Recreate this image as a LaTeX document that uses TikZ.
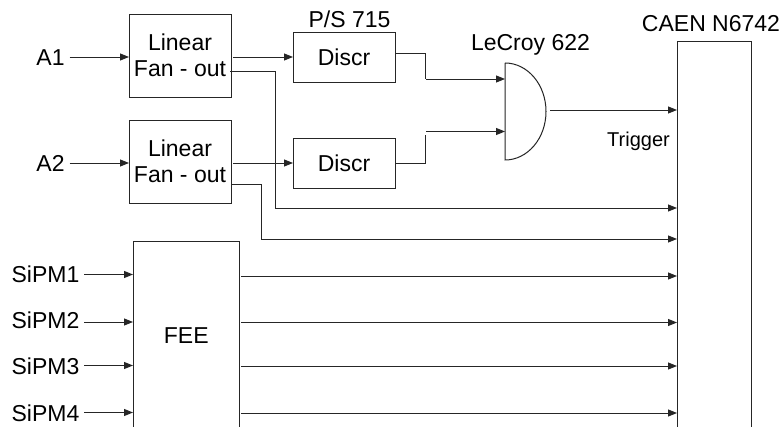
\documentclass[tikz,border=0pt]{standalone}
\usepackage{fontspec}
\setmainfont{Liberation Sans}
\usetikzlibrary{arrows.meta}
\tikzset{
  box/.style={draw=black!85,line width=0.9pt,inner sep=0pt,outer sep=0pt,align=center,font=\fontsize{23}{25.5}\selectfont},
  txt/.style={inner sep=0pt,outer sep=0pt,font=\fontsize{23}{26}\selectfont},
  small/.style={inner sep=0pt,outer sep=0pt,font=\fontsize{20}{24}\selectfont},
  wire/.style={draw=black!85,line width=0.9pt},
  arr/.style={wire,-{Triangle[length=9pt,width=7pt]}}
}
\begin{document}
\begin{tikzpicture}[x=1pt,y=-1pt]
\clip (0,0) rectangle (783,427);
\fill[white] (0,0) rectangle (783,427);
% boxes
\node[box,minimum width=102pt,minimum height=83pt] (fan1) at (180,55.5) {Linear\\Fan - out};
\node[box,minimum width=102pt,minimum height=83pt] (fan2) at (180,161.5) {Linear\\Fan - out};
\node[box,minimum width=102pt,minimum height=50pt] (disc1) at (344,57) {Discr};
\node[box,minimum width=102pt,minimum height=50pt] (disc2) at (344,163) {Discr};
\node[box,minimum width=106.5pt,minimum height=190pt] (fee) at (186.25,336) {FEE};
\node[box,minimum width=74pt,minimum height=400pt] (caen) at (714,241) {};
\node[inner sep=0pt,outer sep=0pt,minimum width=41pt,minimum height=97pt] (gate) at (525.5,111.5) {};
\draw[wire,line width=1pt] (gate.north west) -- (gate.south west) arc[start angle=-90,end angle=90,x radius=41pt,y radius=48.5pt];
% labels
\node[txt] (a1) at (50.5,57.5) {A1};
\node[txt] (a2) at (50.5,163) {A2};
\node[txt] (s1) at (45.5,274) {SiPM1};
\node[txt] (s2) at (45.5,320) {SiPM2};
\node[txt] (s3) at (45.5,366.5) {SiPM3};
\node[txt] (s4) at (45.5,413.5) {SiPM4};
\node[txt] (ps) at (349.5,19.5) {P/S 715};
\node[txt] (lc) at (530.5,45) {LeCroy 622};
\node[txt] (cn) at (711,24) {CAEN N6742};
\node[small] (trig) at (638.5,141.5) {Trigger};
% inputs
\draw[arr] (a1.east |- 0,57) ++(5,0) -- (fan1.west |- 0,57);
\draw[arr] (a2.east |- 0,163) ++(5,0) -- (fan2.west |- 0,163);
\draw[arr] (84,274.5) -- (fee.west |- 0,274.5);
\draw[arr] (84,322) -- (fee.west |- 0,322);
\draw[arr] (84,365.5) -- (fee.west |- 0,365.5);
\draw[arr] (84,412.5) -- (fee.west |- 0,412.5);
% fan to discr
\draw[arr] (233,57) -- (disc1.west |- 0,57);
\draw[arr] (233,163) -- (disc2.west |- 0,163);
% fan to digitizer
\draw[arr] (230,71.5) -- (275,71.5) -- (275,208) -- (caen.west |- 0,208);
\draw[arr] (231,184) -- (261,184) -- (261,239) -- (caen.west |- 0,239);
% discr to gate
\draw[wire] (disc1.east |- 0,53) -- (425,53) -- (425,79);
\draw[arr] (426,79) -- (gate.west |- 0,79);
\draw[wire] (disc2.east |- 0,163) -- (425,163) -- (425,135);
\draw[arr] (426,131.5) -- (gate.west |- 0,131.5);
% gate to digitizer
\draw[arr] (550,110) -- (caen.west |- 0,110);
% FEE to digitizer
\draw[arr] (241,276) -- (caen.west |- 0,276);
\draw[arr] (241,322.5) -- (caen.west |- 0,322.5);
\draw[arr] (241,366) -- (caen.west |- 0,366);
\draw[arr] (241,413) -- (caen.west |- 0,413);
\end{tikzpicture}
\end{document}
